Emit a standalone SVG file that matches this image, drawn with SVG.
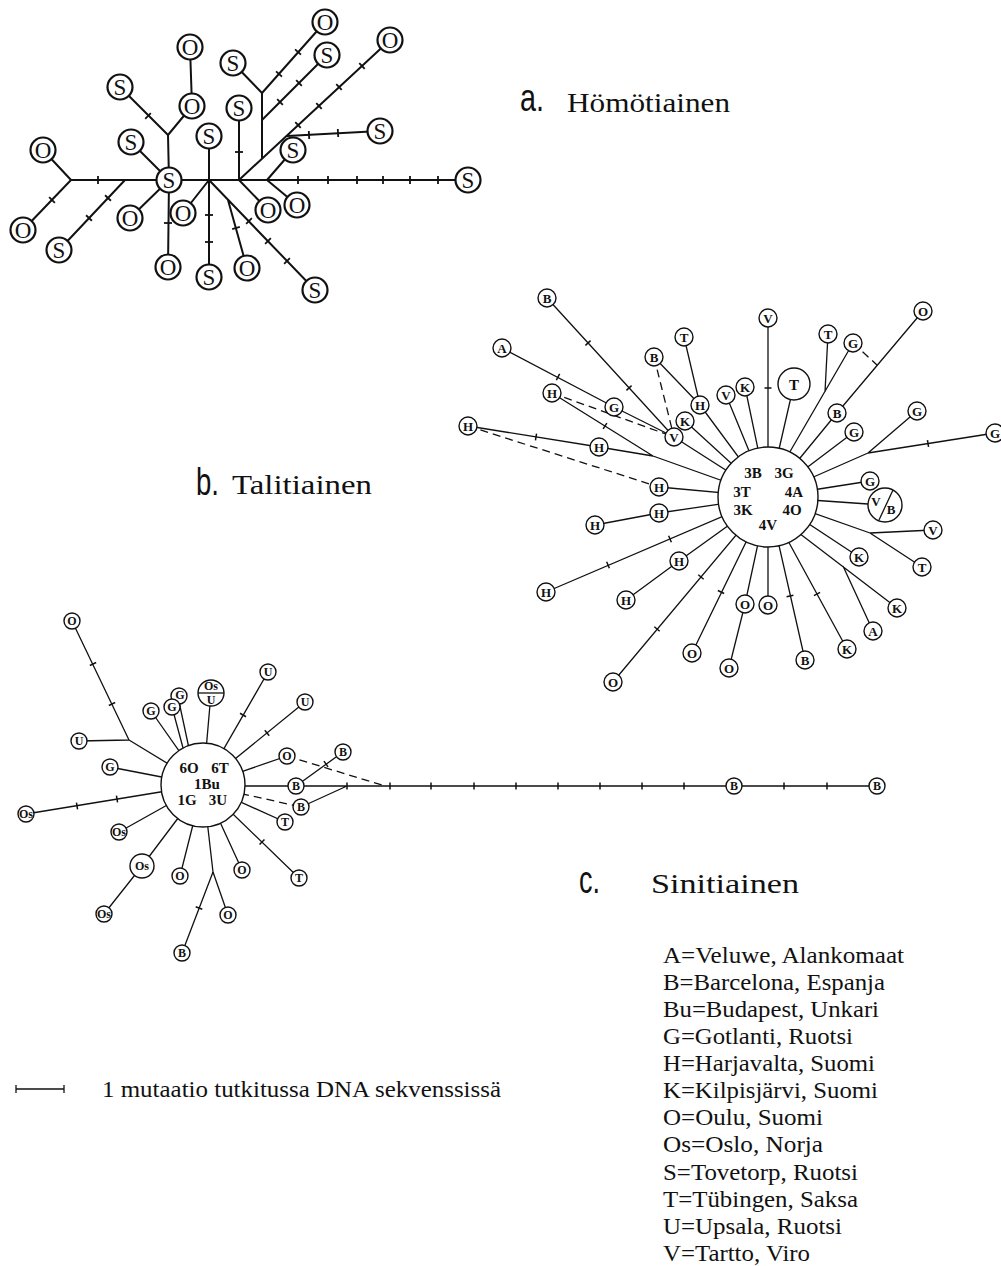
<svg xmlns="http://www.w3.org/2000/svg" width="1001" height="1266" viewBox="0 0 1001 1266">
<style>
.e{stroke:#111;stroke-width:1.3;fill:none}
.ea{stroke:#111;stroke-width:2;fill:none}
.d{stroke:#111;stroke-width:1.3;stroke-dasharray:8 5;fill:none}
.na{fill:#fff;stroke:#111;stroke-width:2.2}
.nb{fill:#fff;stroke:#111;stroke-width:1.4}
.ta{font-family:"Liberation Serif",serif;font-size:23px;text-anchor:middle;fill:#111}
.tb{font-family:"Liberation Serif",serif;font-size:13px;font-weight:bold;text-anchor:middle;fill:#111}
.tc{font-family:"Liberation Serif",serif;font-size:12px;font-weight:bold;text-anchor:middle;fill:#111}
.tm{font-family:"Liberation Serif",serif;font-size:15px;font-weight:bold;text-anchor:middle;fill:#111}
.big{font-family:"Liberation Sans",sans-serif;font-size:38px;fill:#111}
.ttl{font-family:"Liberation Serif",serif;font-size:28px;fill:#111}
.lg{font-family:"Liberation Serif",serif;font-size:23px;fill:#111}
</style>
<defs>
<line id="tk" x1="0" y1="-3.5" x2="0" y2="3.5" stroke="#111" stroke-width="1.5"/>
<line id="tka" x1="0" y1="-4" x2="0" y2="4" stroke="#111" stroke-width="1.8"/>
</defs>
<rect width="1001" height="1266" fill="#fff"/>

<!-- ===== Network a ===== -->
<g id="edges-a">
<path class="ea" d="M190 47L192 106M192 106L168 135M120 87L168 135M168 135L169 180M131 142L169 180M71 180L169 180M43 150L71 180M23 230L71 180M59 250L125 180M130 218L169 180M169 180L168 267M169 180L468 180M209 136L209 180M183 213L209 180M209 180L209 277M209 180L315 290M228 200L247 268M239 108L239 180M239 180L268 210M267 180L297 205M267 180L293 150M239 180L390 40M287 136L380 131M262 158L262 93M262 93L233 63M262 93L325 22M262 120L327 55"/>
<use href="#tka" transform="translate(148,116) rotate(45)"/>
<use href="#tka" transform="translate(98,180)"/>
<use href="#tka" transform="translate(52,200) rotate(-46)"/>
<use href="#tka" transform="translate(108,198) rotate(-47)"/>
<use href="#tka" transform="translate(89,218) rotate(-47)"/>
<use href="#tka" transform="translate(168,223) rotate(90)"/>
<use href="#tka" transform="translate(209,215) rotate(90)"/>
<use href="#tka" transform="translate(209,242) rotate(90)"/>
<use href="#tka" transform="translate(249,221) rotate(46)"/>
<use href="#tka" transform="translate(268,241) rotate(46)"/>
<use href="#tka" transform="translate(287,261) rotate(46)"/>
<use href="#tka" transform="translate(236,228) rotate(74)"/>
<use href="#tka" transform="translate(239,152) rotate(90)"/>
<use href="#tka" transform="translate(298,180)"/>
<use href="#tka" transform="translate(328,180)"/>
<use href="#tka" transform="translate(357,180)"/>
<use href="#tka" transform="translate(383,180)"/>
<use href="#tka" transform="translate(410,180)"/>
<use href="#tka" transform="translate(438,180)"/>
<use href="#tka" transform="translate(298,125) rotate(-43)"/>
<use href="#tka" transform="translate(319,106) rotate(-43)"/>
<use href="#tka" transform="translate(339,87) rotate(-43)"/>
<use href="#tka" transform="translate(362,66) rotate(-43)"/>
<use href="#tka" transform="translate(309,135) rotate(-3)"/>
<use href="#tka" transform="translate(338,133) rotate(-3)"/>
<use href="#tka" transform="translate(279,74) rotate(-48)"/>
<use href="#tka" transform="translate(298,52) rotate(-48)"/>
<use href="#tka" transform="translate(280,102) rotate(-45)"/>
<use href="#tka" transform="translate(299,83) rotate(-45)"/>
</g>
<g id="a01"><circle class="na" cx="190" cy="47" r="12.5"/><text class="ta" x="190" y="55">O</text></g>
<g id="a02"><circle class="na" cx="192" cy="106" r="12.5"/><text class="ta" x="192" y="114">O</text></g>
<g id="a03"><circle class="na" cx="120" cy="87" r="12.5"/><text class="ta" x="120" y="95">S</text></g>
<g id="a04"><circle class="na" cx="169" cy="180" r="12.5"/><text class="ta" x="169" y="188">S</text></g>
<g id="a05"><circle class="na" cx="131" cy="142" r="12.5"/><text class="ta" x="131" y="150">S</text></g>
<g id="a06"><circle class="na" cx="43" cy="150" r="12.5"/><text class="ta" x="43" y="158">O</text></g>
<g id="a07"><circle class="na" cx="23" cy="230" r="12.5"/><text class="ta" x="23" y="238">O</text></g>
<g id="a08"><circle class="na" cx="59" cy="250" r="12.5"/><text class="ta" x="59" y="258">S</text></g>
<g id="a09"><circle class="na" cx="130" cy="218" r="12.5"/><text class="ta" x="130" y="226">O</text></g>
<g id="a10"><circle class="na" cx="168" cy="267" r="12.5"/><text class="ta" x="168" y="275">O</text></g>
<g id="a11"><circle class="na" cx="209" cy="136" r="12.5"/><text class="ta" x="209" y="144">S</text></g>
<g id="a12"><circle class="na" cx="183" cy="213" r="12.5"/><text class="ta" x="183" y="221">O</text></g>
<g id="a13"><circle class="na" cx="209" cy="277" r="12.5"/><text class="ta" x="209" y="285">S</text></g>
<g id="a14"><circle class="na" cx="315" cy="290" r="12.5"/><text class="ta" x="315" y="298">S</text></g>
<g id="a15"><circle class="na" cx="247" cy="268" r="12.5"/><text class="ta" x="247" y="276">O</text></g>
<g id="a16"><circle class="na" cx="239" cy="108" r="12.5"/><text class="ta" x="239" y="116">S</text></g>
<g id="a17"><circle class="na" cx="268" cy="210" r="12.5"/><text class="ta" x="268" y="218">O</text></g>
<g id="a18"><circle class="na" cx="297" cy="205" r="12.5"/><text class="ta" x="297" y="213">O</text></g>
<g id="a19"><circle class="na" cx="293" cy="150" r="12.5"/><text class="ta" x="293" y="158">S</text></g>
<g id="a20"><circle class="na" cx="468" cy="180" r="12.5"/><text class="ta" x="468" y="188">S</text></g>
<g id="a21"><circle class="na" cx="390" cy="40" r="12.5"/><text class="ta" x="390" y="48">O</text></g>
<g id="a22"><circle class="na" cx="380" cy="131" r="12.5"/><text class="ta" x="380" y="139">S</text></g>
<g id="a23"><circle class="na" cx="233" cy="63" r="12.5"/><text class="ta" x="233" y="71">S</text></g>
<g id="a24"><circle class="na" cx="325" cy="22" r="12.5"/><text class="ta" x="325" y="30">O</text></g>
<g id="a25"><circle class="na" cx="327" cy="55" r="12.5"/><text class="ta" x="327" y="63">S</text></g>
<g id="label-a"><text class="big" x="520" y="111" textLength="24" lengthAdjust="spacingAndGlyphs">a.</text><text class="ttl" x="567" y="112" textLength="163" lengthAdjust="spacingAndGlyphs">Hömötiainen</text></g>

<!-- ===== Network b ===== -->
<g id="edges-b">
<path class="e" d="M547 298L674 437M502 348L614 407M614 407L674 437M552 393L653 456M599 447L653 456M653 456L768 497M468 426L599 447M659 487L768 497M654 357L700 405M684 337L700 405M700 405L768 497M685 421L768 497M674 437L768 497M726 395L768 497M745 387L768 497M768 318L768 497M794 384L768 497M828 334L825 392M853 343L784 462M923 311L837 413M837 413L768 497M854 432L768 497M917 411L868 453M995 433L868 453M868 453L768 497M870 481L768 497M868 504L768 497M933 530L870 533M922 567L870 533M870 533L768 497M859 557L768 497M897 608L795 530M843 566L873 631M847 649L787 539M805 660L768 497M768 605L768 497M745 604L768 497M729 668L745 604M692 653L768 497M613 682L768 497M679 561L768 497M626 600L679 561M546 592L768 497M659 513L768 497M595 525L659 513"/>
<path class="d" d="M552 393L674 437M468 426L659 487M654 357L674 437M853 343L877 365"/>
<use href="#tk" transform="translate(588,343) rotate(47.6)"/>
<use href="#tk" transform="translate(629,388) rotate(47.6)"/>
<use href="#tk" transform="translate(558,377) rotate(28)"/>
<use href="#tk" transform="translate(605,426) rotate(32)"/>
<use href="#tk" transform="translate(536,437) rotate(9)"/>
<use href="#tk" transform="translate(768,388) rotate(90)"/>
<use href="#tk" transform="translate(928,443.5) rotate(-9)"/>
<use href="#tk" transform="translate(817,594) rotate(61)"/>
<use href="#tk" transform="translate(790,596) rotate(77)"/>
<use href="#tk" transform="translate(721,592) rotate(-64)"/>
<use href="#tk" transform="translate(701,577) rotate(-50)"/>
<use href="#tk" transform="translate(657,629) rotate(-50)"/>
<use href="#tk" transform="translate(608,565) rotate(-23)"/>
<use href="#tk" transform="translate(670,539) rotate(-23)"/>
</g>
<g id="b-center"><circle class="nb" cx="768" cy="497" r="50"/>
<text class="tm" x="753" y="478">3B</text><text class="tm" x="784" y="478">3G</text>
<text class="tm" x="742" y="497">3T</text><text class="tm" x="794" y="497">4A</text>
<text class="tm" x="743" y="515">3K</text><text class="tm" x="792" y="515">4O</text>
<text class="tm" x="768" y="530">4V</text></g>
<g id="b01"><circle class="nb" cx="547" cy="298" r="9"/><text class="tb" x="547" y="302.5">B</text></g>
<g id="b02"><circle class="nb" cx="502" cy="348" r="9"/><text class="tb" x="502" y="352.5">A</text></g>
<g id="b03"><circle class="nb" cx="552" cy="393" r="9"/><text class="tb" x="552" y="397.5">H</text></g>
<g id="b04"><circle class="nb" cx="614" cy="407" r="9"/><text class="tb" x="614" y="411.5">G</text></g>
<g id="b05"><circle class="nb" cx="468" cy="426" r="9"/><text class="tb" x="468" y="430.5">H</text></g>
<g id="b06"><circle class="nb" cx="599" cy="447" r="9"/><text class="tb" x="599" y="451.5">H</text></g>
<g id="b07"><circle class="nb" cx="674" cy="437" r="9"/><text class="tb" x="674" y="441.5">V</text></g>
<g id="b08"><circle class="nb" cx="654" cy="357" r="9"/><text class="tb" x="654" y="361.5">B</text></g>
<g id="b09"><circle class="nb" cx="684" cy="337" r="9"/><text class="tb" x="684" y="341.5">T</text></g>
<g id="b10"><circle class="nb" cx="700" cy="405" r="9"/><text class="tb" x="700" y="409.5">H</text></g>
<g id="b11"><circle class="nb" cx="685" cy="421" r="9"/><text class="tb" x="685" y="425.5">K</text></g>
<g id="b12"><circle class="nb" cx="726" cy="395" r="9"/><text class="tb" x="726" y="399.5">V</text></g>
<g id="b13"><circle class="nb" cx="745" cy="387" r="9"/><text class="tb" x="745" y="391.5">K</text></g>
<g id="b14"><circle class="nb" cx="768" cy="318" r="9"/><text class="tb" x="768" y="322.5">V</text></g>
<g id="b15"><circle class="nb" cx="794" cy="384" r="16"/><text class="tm" x="794" y="389.5">T</text></g>
<g id="b16"><circle class="nb" cx="828" cy="334" r="9"/><text class="tb" x="828" y="338.5">T</text></g>
<g id="b17"><circle class="nb" cx="853" cy="343" r="9"/><text class="tb" x="853" y="347.5">G</text></g>
<g id="b18"><circle class="nb" cx="923" cy="311" r="9"/><text class="tb" x="923" y="315.5">O</text></g>
<g id="b19"><circle class="nb" cx="837" cy="413" r="9"/><text class="tb" x="837" y="417.5">B</text></g>
<g id="b20"><circle class="nb" cx="854" cy="432" r="9"/><text class="tb" x="854" y="436.5">G</text></g>
<g id="b21"><circle class="nb" cx="917" cy="411" r="9"/><text class="tb" x="917" y="415.5">G</text></g>
<g id="b22"><circle class="nb" cx="995" cy="433" r="9"/><text class="tb" x="995" y="437.5">G</text></g>
<g id="b23"><circle class="nb" cx="870" cy="481" r="9"/><text class="tb" x="870" y="485.5">G</text></g>
<g id="b24"><circle class="nb" cx="885" cy="505" r="17"/><line class="e" x1="893" y1="490" x2="879" y2="520"/><text class="tb" x="876" y="506">V</text><text class="tb" x="891" y="514">B</text></g>
<g id="b25"><circle class="nb" cx="933" cy="530" r="9"/><text class="tb" x="933" y="534.5">V</text></g>
<g id="b26"><circle class="nb" cx="922" cy="567" r="9"/><text class="tb" x="922" y="571.5">T</text></g>
<g id="b27"><circle class="nb" cx="859" cy="557" r="9"/><text class="tb" x="859" y="561.5">K</text></g>
<g id="b28"><circle class="nb" cx="897" cy="608" r="9"/><text class="tb" x="897" y="612.5">K</text></g>
<g id="b29"><circle class="nb" cx="873" cy="631" r="9"/><text class="tb" x="873" y="635.5">A</text></g>
<g id="b30"><circle class="nb" cx="847" cy="649" r="9"/><text class="tb" x="847" y="653.5">K</text></g>
<g id="b31"><circle class="nb" cx="805" cy="660" r="9"/><text class="tb" x="805" y="664.5">B</text></g>
<g id="b32"><circle class="nb" cx="768" cy="605" r="9"/><text class="tb" x="768" y="609.5">O</text></g>
<g id="b33"><circle class="nb" cx="745" cy="604" r="9"/><text class="tb" x="745" y="608.5">O</text></g>
<g id="b34"><circle class="nb" cx="729" cy="668" r="9"/><text class="tb" x="729" y="672.5">O</text></g>
<g id="b35"><circle class="nb" cx="692" cy="653" r="9"/><text class="tb" x="692" y="657.5">O</text></g>
<g id="b36"><circle class="nb" cx="613" cy="682" r="9"/><text class="tb" x="613" y="686.5">O</text></g>
<g id="b37"><circle class="nb" cx="679" cy="561" r="9"/><text class="tb" x="679" y="565.5">H</text></g>
<g id="b38"><circle class="nb" cx="626" cy="600" r="9"/><text class="tb" x="626" y="604.5">H</text></g>
<g id="b39"><circle class="nb" cx="546" cy="592" r="9"/><text class="tb" x="546" y="596.5">H</text></g>
<g id="b40"><circle class="nb" cx="659" cy="513" r="9"/><text class="tb" x="659" y="517.5">H</text></g>
<g id="b41"><circle class="nb" cx="595" cy="525" r="9"/><text class="tb" x="595" y="529.5">H</text></g>
<g id="b42"><circle class="nb" cx="659" cy="487" r="9"/><text class="tb" x="659" y="491.5">H</text></g>
<g id="label-b"><text class="big" x="196" y="495" textLength="23" lengthAdjust="spacingAndGlyphs">b.</text><text class="ttl" x="232" y="494" textLength="140" lengthAdjust="spacingAndGlyphs">Talitiainen</text></g>

<!-- ===== Network c ===== -->
<g id="edges-c">
<path class="e" d="M72 621L129 740M79 741L129 740M129 740L203 785M151 711L203 785M178 697L190 753M172 707L186 759M211 693L203 785M268 672L203 785M305 702L203 785M287 756L203 785M343 752L296 786M203 786L877 786M301 807L347 786M285 822L203 785M299 878L203 785M242 870L203 785M228 915L213 872M182 953L213 872M213 872L203 785M180 876L203 785M142 866L203 785M104 914L142 866M119 832L203 785M26 814L203 785M110 767L203 785"/>
<path class="d" d="M287 756L385 786M203 785L301 807"/>
<use href="#tk" transform="translate(93,664) rotate(64)"/>
<use href="#tk" transform="translate(112,704) rotate(64)"/>
<use href="#tk" transform="translate(243,715) rotate(-60)"/>
<use href="#tk" transform="translate(267,733) rotate(-39)"/>
<use href="#tk" transform="translate(326,764) rotate(-36)"/>
<use href="#tk" transform="translate(347,786)"/>
<use href="#tk" transform="translate(390,786)"/>
<use href="#tk" transform="translate(431,786)"/>
<use href="#tk" transform="translate(474,786)"/>
<use href="#tk" transform="translate(516,786)"/>
<use href="#tk" transform="translate(558,786)"/>
<use href="#tk" transform="translate(600,786)"/>
<use href="#tk" transform="translate(642,786)"/>
<use href="#tk" transform="translate(684,786)"/>
<use href="#tk" transform="translate(784,786)"/>
<use href="#tk" transform="translate(827,786)"/>
<use href="#tk" transform="translate(262,842) rotate(44)"/>
<use href="#tk" transform="translate(199,908) rotate(-69)"/>
<use href="#tk" transform="translate(77,806) rotate(-9)"/>
<use href="#tk" transform="translate(117,799) rotate(-9)"/>
</g>
<g id="c-center"><circle class="nb" cx="203" cy="785" r="42"/>
<text class="tm" x="189" y="773">6O</text><text class="tm" x="220" y="773">6T</text>
<text class="tm" x="207" y="789">1Bu</text>
<text class="tm" x="187" y="805">1G</text><text class="tm" x="218" y="805">3U</text></g>
<g id="c01"><circle class="nb" cx="72" cy="621" r="8"/><text class="tc" x="72" y="625">O</text></g>
<g id="c02"><circle class="nb" cx="79" cy="741" r="8"/><text class="tc" x="79" y="745">U</text></g>
<g id="c03"><circle class="nb" cx="110" cy="767" r="8"/><text class="tc" x="110" y="771">G</text></g>
<g id="c04"><circle class="nb" cx="151" cy="711" r="8"/><text class="tc" x="151" y="715">G</text></g>
<g id="c05"><circle class="nb" cx="179" cy="696" r="8"/><text class="tc" x="180" y="699">G</text></g>
<g id="c06"><circle class="nb" cx="172" cy="707" r="8"/><text class="tc" x="172" y="711">G</text></g>
<g id="c07"><circle class="nb" cx="211" cy="693" r="13"/><line class="e" x1="198" y1="693" x2="224" y2="693"/><text class="tc" x="211" y="690">Os</text><text class="tc" x="211" y="704">U</text></g>
<g id="c08"><circle class="nb" cx="268" cy="672" r="8"/><text class="tc" x="268" y="676">U</text></g>
<g id="c09"><circle class="nb" cx="305" cy="702" r="8"/><text class="tc" x="305" y="706">U</text></g>
<g id="c10"><circle class="nb" cx="287" cy="756" r="8"/><text class="tc" x="287" y="760">O</text></g>
<g id="c11"><circle class="nb" cx="343" cy="752" r="8"/><text class="tc" x="343" y="756">B</text></g>
<g id="c12"><circle class="nb" cx="296" cy="786" r="8"/><text class="tc" x="296" y="790">B</text></g>
<g id="c13"><circle class="nb" cx="301" cy="807" r="8"/><text class="tc" x="301" y="811">B</text></g>
<g id="c14"><circle class="nb" cx="285" cy="822" r="8"/><text class="tc" x="285" y="826">T</text></g>
<g id="c15"><circle class="nb" cx="299" cy="878" r="8"/><text class="tc" x="299" y="882">T</text></g>
<g id="c16"><circle class="nb" cx="242" cy="870" r="8"/><text class="tc" x="242" y="874">O</text></g>
<g id="c17"><circle class="nb" cx="228" cy="915" r="8"/><text class="tc" x="228" y="919">O</text></g>
<g id="c18"><circle class="nb" cx="182" cy="953" r="8"/><text class="tc" x="182" y="957">B</text></g>
<g id="c19"><circle class="nb" cx="180" cy="876" r="8"/><text class="tc" x="180" y="880">O</text></g>
<g id="c20"><circle class="nb" cx="142" cy="866" r="12"/><text class="tc" x="142" y="870">Os</text></g>
<g id="c21"><circle class="nb" cx="104" cy="914" r="8"/><text class="tc" x="104" y="918">Os</text></g>
<g id="c22"><circle class="nb" cx="119" cy="832" r="8"/><text class="tc" x="119" y="836">Os</text></g>
<g id="c23"><circle class="nb" cx="26" cy="814" r="8"/><text class="tc" x="26" y="818">Os</text></g>
<g id="c24"><circle class="nb" cx="734" cy="786" r="8"/><text class="tc" x="734" y="790">B</text></g>
<g id="c25"><circle class="nb" cx="877" cy="786" r="8"/><text class="tc" x="877" y="790">B</text></g>
<g id="label-c"><text class="big" x="579" y="893" textLength="21" lengthAdjust="spacingAndGlyphs">c.</text><text class="ttl" x="651" y="893" textLength="148" lengthAdjust="spacingAndGlyphs">Sinitiainen</text></g>

<!-- ===== Legend ===== -->
<g id="scale">
<path class="e" d="M16 1089H64M16 1085V1093M64 1085V1093"/>
<text class="lg" x="102" y="1097" textLength="399" lengthAdjust="spacingAndGlyphs">1 mutaatio tutkitussa DNA sekvenssissä</text>
</g>
<g id="key">
<text class="lg" x="663" y="963" textLength="241" lengthAdjust="spacingAndGlyphs">A=Veluwe, Alankomaat</text>
<text class="lg" x="663" y="990" textLength="222" lengthAdjust="spacingAndGlyphs">B=Barcelona, Espanja</text>
<text class="lg" x="663" y="1017" textLength="216" lengthAdjust="spacingAndGlyphs">Bu=Budapest, Unkari</text>
<text class="lg" x="663" y="1044" textLength="190" lengthAdjust="spacingAndGlyphs">G=Gotlanti, Ruotsi</text>
<text class="lg" x="663" y="1071" textLength="212" lengthAdjust="spacingAndGlyphs">H=Harjavalta, Suomi</text>
<text class="lg" x="663" y="1098" textLength="215" lengthAdjust="spacingAndGlyphs">K=Kilpisjärvi, Suomi</text>
<text class="lg" x="663" y="1125" textLength="160" lengthAdjust="spacingAndGlyphs">O=Oulu, Suomi</text>
<text class="lg" x="663" y="1152" textLength="160" lengthAdjust="spacingAndGlyphs">Os=Oslo, Norja</text>
<text class="lg" x="663" y="1180" textLength="195" lengthAdjust="spacingAndGlyphs">S=Tovetorp, Ruotsi</text>
<text class="lg" x="663" y="1207" textLength="195" lengthAdjust="spacingAndGlyphs">T=Tübingen, Saksa</text>
<text class="lg" x="663" y="1234" textLength="179" lengthAdjust="spacingAndGlyphs">U=Upsala, Ruotsi</text>
<text class="lg" x="663" y="1261" textLength="147" lengthAdjust="spacingAndGlyphs">V=Tartto, Viro</text>
</g>
</svg>
